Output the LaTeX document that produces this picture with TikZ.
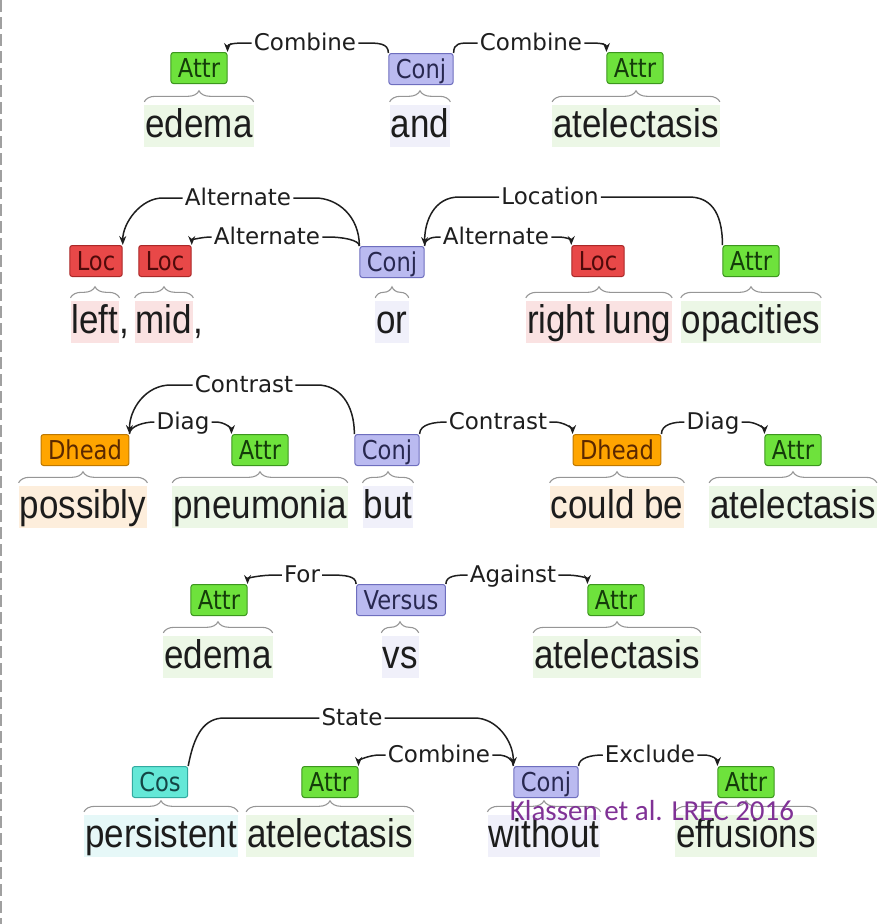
\documentclass[tikz,border=0pt]{standalone}
\usepackage{fontspec}
\usetikzlibrary{arrows.meta,decorations.pathreplacing}
\newfontfamily\wordfont[FakeStretch=0.875]{Liberation Sans}
\newfontfamily\labfont{DejaVu Sans}
\newfontfamily\boxfont[FakeStretch=0.87]{DejaVu Sans}
\newfontfamily\citefont{Carlito}
\definecolor{attrfill}{RGB}{110,226,60}
\definecolor{attrdraw}{RGB}{60,150,30}
\definecolor{attrtext}{RGB}{20,60,10}
\definecolor{locfill}{RGB}{232,72,72}
\definecolor{locdraw}{RGB}{170,40,40}
\definecolor{loctext}{RGB}{80,10,10}
\definecolor{conjfill}{RGB}{186,186,240}
\definecolor{conjdraw}{RGB}{110,110,190}
\definecolor{conjtext}{RGB}{40,40,80}
\definecolor{dheadfill}{RGB}{255,165,0}
\definecolor{dheaddraw}{RGB}{190,120,0}
\definecolor{dheadtext}{RGB}{90,40,0}
\definecolor{cosfill}{RGB}{100,232,215}
\definecolor{cosdraw}{RGB}{50,170,160}
\definecolor{costext}{RGB}{20,70,70}
\definecolor{attrbg}{RGB}{236,247,230}
\definecolor{locbg}{RGB}{250,226,226}
\definecolor{conjbg}{RGB}{240,240,250}
\definecolor{dheadbg}{RGB}{253,238,220}
\definecolor{cosbg}{RGB}{230,248,248}
\definecolor{wordc}{RGB}{28,28,28}
\definecolor{labc}{RGB}{30,30,30}
\definecolor{arcc}{RGB}{30,30,30}
\definecolor{bracec}{RGB}{150,150,150}
\definecolor{citec}{RGB}{128,50,150}
\definecolor{dashc}{RGB}{160,160,160}
\begin{document}
\begin{tikzpicture}[x=1pt,y=-1pt,
  lab/.style={font=\labfont\fontsize{23}{23}\selectfont, text=labc, inner xsep=2pt, inner ysep=0pt, text height=14pt, text depth=0pt},
  box/.style={rounded corners=2.5pt, line width=1pt, font=\boxfont\fontsize{26}{26}\selectfont, inner xsep=7pt, inner ysep=0pt, text height=19pt, text depth=1pt, minimum height=31pt},
  attr/.style={box, fill=attrfill, draw=attrdraw, text=attrtext},
  loc/.style={box, fill=locfill, draw=locdraw, text=loctext},
  conj/.style={box, fill=conjfill, draw=conjdraw, text=conjtext},
  dhead/.style={box, fill=dheadfill, draw=dheaddraw, text=dheadtext},
  cos/.style={box, fill=cosfill, draw=cosdraw, text=costext},
  word/.style={font=\wordfont\fontsize{40}{40}\selectfont, text=wordc, inner xsep=1pt, inner ysep=2pt, text height=30pt, text depth=8pt, anchor=base},
  wattr/.style={word, fill=attrbg},
  wloc/.style={word, fill=locbg},
  wconj/.style={word, fill=conjbg},
  wdhead/.style={word, fill=dheadbg},
  wcos/.style={word, fill=cosbg},
  plainword/.style={font=\wordfont\fontsize{40}{40}\selectfont, text=wordc, inner sep=0pt, anchor=base west},
  brc/.style={draw=bracec, line width=1.1pt, decorate, decoration={brace, amplitude=11pt}},
  arcl/.style={draw=arcc, line width=1.5pt},
  arr/.style={arcl, -{Stealth[length=9pt,width=7pt]}}
]
\useasboundingbox (0,0) rectangle (881,924);
\draw[dashc, line width=1.6pt, dash pattern=on 12pt off 5pt] (1,0) -- (1,924);

% ---------------- Row 1
\node[wattr] (w11) at (199,137) {edema};
\node[wconj] (w12) at (420,137) {and};
\node[wattr] (w13) at (636,137) {atelectasis};
\node[attr] (a1) at (199,68) {Attr};
\node[conj] (c1) at (421,69) {Conj};
\node[attr] (a2) at (635,68) {Attr};
\node[lab] (r1l1) at (305,43) {Combine};
\node[lab] (r1l2) at (531,43) {Combine};
\foreach \w in {w11,w12,w13} \draw[brc] ([yshift=3pt]\w.north west) -- ([yshift=3pt]\w.north east);
\draw[arr] (r1l1.west) -- ++(-6,0) .. controls +(-12,0) and +(0,-8) .. (a1.north east);
\draw[arcl] (r1l1.east) -- ++(6,0) .. controls +(14,0) and +(0,-10) .. (c1.north west);
\draw[arcl] (c1.north east) .. controls +(0,-10) and +(-12,0) .. ([xshift=-6pt]r1l2.west) -- (r1l2.west);
\draw[arr] (r1l2.east) -- ++(6,0) .. controls +(10,0) and +(0,-8) .. (a2.north west);

% ---------------- Row 2
\node[wloc] (w21) at (95,333) {left};
\node[plainword] (k21) at (w21.base east) {,};
\node[wloc] (w22) at (164,333) {mid};
\node[plainword] (k22) at (w22.base east) {,};
\node[wconj] (w23) at (392,333) {or};
\node[wloc] (w24) at (599,333) {right lung};
\node[wattr] (w25) at (751,333) {opacities};
\node[loc] (loc1) at (96,261) {Loc};
\node[loc] (loc2) at (165,261) {Loc};
\node[conj] (c2) at (392,262) {Conj};
\node[loc] (loc3) at (598,261) {Loc};
\node[attr] (a3) at (751,261) {Attr};
\node[lab] (r2u) at (238,198) {Alternate};
\node[lab] (r2m) at (267,237) {Alternate};
\node[lab] (r2loc) at (550,197) {Location};
\node[lab] (r2r) at (496,237) {Alternate};
\foreach \w in {w21,w22,w23,w24,w25} \draw[brc] ([yshift=3pt]\w.north west) -- ([yshift=3pt]\w.north east);
\draw[arr] (r2u.west) -- ++(-20,0) .. controls +(-22,0) and +(0,-22) .. (loc1.north east);
\draw[arcl] (r2u.east) -- ++(22,0) .. controls +(22,0) and +(0,-30) .. (c2.north west);
\draw[arr] (r2m.west) .. controls +(-10,0) and +(0,-5) .. (loc2.north east);
\draw[arcl] (r2m.east) -- ++(6,0) .. controls +(14,0) and +(0,-6) .. (c2.north west);
\draw[arr] (r2loc.west) -- ++(-40,0) .. controls +(-25,0) and +(0,-25) .. (c2.north east);
\draw[arcl] (r2loc.east) -- ++(88,0) .. controls +(20,0) and +(0,-35) .. (a3.north west);
\draw[arcl] (c2.north east) .. controls +(0,-8) and +(-8,0) .. (r2r.west);
\draw[arr] (r2r.east) -- ++(6,0) .. controls +(10,0) and +(0,-5) .. (loc3.north west);

% ---------------- Row 3
\node[wdhead] (w31) at (83,518) {possibly};
\node[wattr] (w32) at (260,518) {pneumonia};
\node[wconj] (w33) at (388,518) {but};
\node[wdhead] (w34) at (617,518) {could be};
\node[wattr] (w35) at (793,518) {atelectasis};
\node[dhead] (dh1) at (85,450) {Dhead};
\node[attr] (a4) at (260,450) {Attr};
\node[conj] (c3) at (387,450) {Conj};
\node[dhead] (dh2) at (617,450) {Dhead};
\node[attr] (a5) at (793,450) {Attr};
\node[lab] (r3u) at (244,385) {Contrast};
\node[lab] (r3d) at (183,422) {Diag};
\node[lab] (r3c) at (498,422) {Contrast};
\node[lab] (r3e) at (713,422) {Diag};
\foreach \w in {w31,w32,w33,w34,w35} \draw[brc] ([yshift=3pt]\w.north west) -- ([yshift=3pt]\w.north east);
\draw[arr] (r3u.west) -- ++(-22,0) .. controls +(-25,0) and +(0,-25) .. (dh1.north east);
\draw[arcl] (r3u.east) -- ++(22,0) .. controls +(22,0) and +(0,-30) .. (c3.north west);
\draw[arcl] (dh1.north east) .. controls +(0,-8) and +(-10,0) .. (r3d.west);
\draw[arr] (r3d.east) -- ++(4,0) .. controls +(10,0) and +(0,-5) .. (a4.north west);
\draw[arcl] (c3.north east) .. controls +(0,-10) and +(-12,0) .. (r3c.west);
\draw[arr] (r3c.east) -- ++(5,0) .. controls +(10,0) and +(0,-5) .. (dh2.north west);
\draw[arcl] (dh2.north east) .. controls +(0,-10) and +(-10,0) .. (r3e.west);
\draw[arr] (r3e.east) -- ++(5,0) .. controls +(10,0) and +(0,-5) .. (a5.north west);

% ---------------- Row 4
\node[wattr] (w41) at (218,668) {edema};
\node[wconj] (w42) at (400,668) {vs};
\node[wattr] (w43) at (617,668) {atelectasis};
\node[attr] (a6) at (219,600) {Attr};
\node[conj] (v) at (401,600) {Versus};
\node[attr] (a7) at (616,600) {Attr};
\node[lab] (r4f) at (302,575) {For};
\node[lab] (r4a) at (513,575) {Against};
\foreach \w in {w41,w42,w43} \draw[brc] ([yshift=3pt]\w.north west) -- ([yshift=3pt]\w.north east);
\draw[arr] (r4f.west) -- ++(-6,0) .. controls +(-15,0) and +(0,-6) .. (a6.north east);
\draw[arcl] (r4f.east) -- ++(6,0) .. controls +(18,0) and +(0,-8) .. (v.north west);
\draw[arcl] (v.north east) .. controls +(0,-8) and +(-12,0) .. (r4a.west);
\draw[arr] (r4a.east) -- ++(6,0) .. controls +(14,0) and +(0,-6) .. (a7.north west);

% ---------------- Row 5
\node[wcos] (w51) at (161,847) {persistent};
\node[wattr] (w52) at (330,847) {atelectasis};
\node[wconj] (w53) at (544,847) {without};
\node[wattr] (w54) at (746,847) {effusions};
\node[cos] (cs) at (160,782) {Cos};
\node[attr] (a8) at (330,782) {Attr};
\node[conj] (c4) at (546,782) {Conj};
\node[attr] (a9) at (746,782) {Attr};
\node[lab] (r5s) at (352,718) {State};
\node[lab] (r5c) at (439,755) {Combine};
\node[lab] (r5e) at (650,755) {Exclude};
\foreach \w in {w51,w52,w53,w54} \draw[brc] ([yshift=3pt]\w.north west) -- ([yshift=3pt]\w.north east);
\draw[arcl] (cs.north east) .. controls +(6,-32) and +(-20,0) .. ([xshift=-95pt]r5s.west) -- (r5s.west);
\draw[arr] (r5s.east) -- ++(90,0) .. controls +(22,0) and +(0,-25) .. (c4.north west);
\draw[arr] (r5c.west) -- ++(-6,0) .. controls +(-10,0) and +(0,-6) .. (a8.north east);
\draw[arcl] (r5c.east) -- ++(5,0) .. controls +(10,0) and +(0,-6) .. (c4.north west);
\draw[arcl] (c4.north east) .. controls +(0,-8) and +(-12,0) .. (r5e.west);
\draw[arr] (r5e.east) -- ++(6,0) .. controls +(10,0) and +(0,-6) .. (a9.north west);

\node[font=\citefont\fontsize{29}{29}\selectfont, text=citec, anchor=base, inner sep=0pt] (cite) at (652,820) {Klassen et al. LREC 2016};
\end{tikzpicture}
\end{document}
